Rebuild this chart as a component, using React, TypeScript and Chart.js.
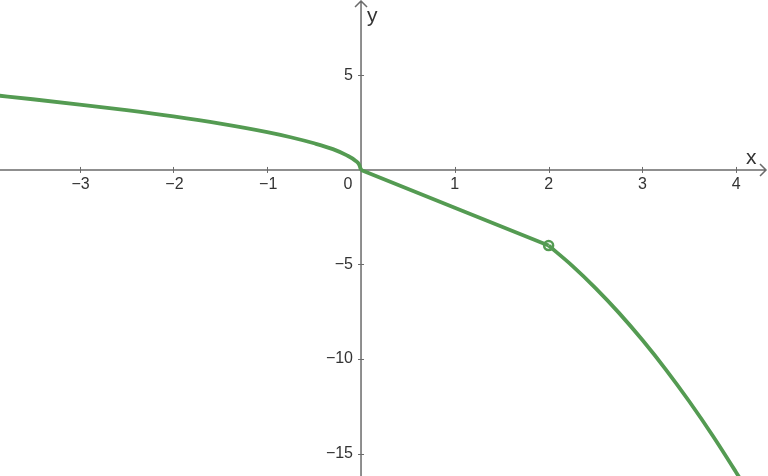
import { useEffect, useRef } from "react"
import { Chart, registerables } from "chart.js"

Chart.register(...registerables)

// values
const leftX = [-3.9, -3.5, -3, -2.5, -2, -1.5, -1, -0.75, -0.5, -0.3, -0.15, -0.06, -0.02, 0]
const leftY = [3.95, 3.74, 3.46, 3.16, 2.83, 2.45, 2.0, 1.73, 1.41, 1.1, 0.77, 0.49, 0.28, 0]
const midX = [0, 2]
const midY = [0, -4]
const rightX = [2, 2.25, 2.5, 2.75, 3, 3.25, 3.5, 3.75, 4, 4.05]
const rightY = [-4, -5.06, -6.25, -7.56, -9, -10.56, -12.25, -14.06, -16, -16.4]
const holeX = [2]
const holeY = [-4]

const xTicks = [-3, -2, -1, 1, 2, 3, 4]
const yTicks = [5, -5, -10, -15]

const GREEN = "#549b52"
const AXIS = "#6b6b6b"

const toPoints = (xs: number[], ys: number[]) => xs.map((x, i) => ({ x, y: ys[i] }))
const fmt = (v: number) => (v < 0 ? "\u2212" + Math.abs(v) : String(v))

const axesPlugin = {
  id: "axes",
  beforeDatasetsDraw(chart: Chart) {
    const ctx = chart.ctx
    const xs = chart.scales.x
    const ys = chart.scales.y
    const ox = xs.getPixelForValue(0)
    const oy = ys.getPixelForValue(0)
    const w = chart.width
    const h = chart.height
    ctx.save()
    ctx.strokeStyle = AXIS
    ctx.lineWidth = 1.5
    ctx.beginPath()
    ctx.moveTo(0, oy)
    ctx.lineTo(w - 2, oy)
    ctx.moveTo(ox, h)
    ctx.lineTo(ox, 1)
    // arrow heads
    ctx.moveTo(w - 8, oy - 6)
    ctx.lineTo(w - 2, oy)
    ctx.lineTo(w - 8, oy + 6)
    ctx.moveTo(ox - 6, 7)
    ctx.lineTo(ox, 1)
    ctx.lineTo(ox + 6, 7)
    ctx.stroke()

    ctx.lineWidth = 1
    ctx.beginPath()
    xTicks.forEach((t) => {
      const px = Math.round(xs.getPixelForValue(t)) + 0.5
      ctx.moveTo(px, oy - 3)
      ctx.lineTo(px, oy + 3)
    })
    yTicks.forEach((t) => {
      const py = Math.round(ys.getPixelForValue(t)) + 0.5
      ctx.moveTo(ox - 3, py)
      ctx.lineTo(ox + 3, py)
    })
    ctx.stroke()

    ctx.fillStyle = "#333"
    ctx.font = "16px 'Liberation Sans', Arial, sans-serif"
    ctx.textAlign = "center"
    ctx.textBaseline = "top"
    xTicks.forEach((t) => {
      ctx.fillText(fmt(t), xs.getPixelForValue(t) + (t < 0 ? 1 : 0), oy + 7)
    })
    ctx.fillText("0", ox - 13, oy + 7)
    ctx.textAlign = "right"
    ctx.textBaseline = "middle"
    yTicks.forEach((t) => {
      ctx.fillText(fmt(t), ox - 8, ys.getPixelForValue(t))
    })

    ctx.font = "21px 'Liberation Sans', Arial, sans-serif"
    ctx.textAlign = "left"
    ctx.textBaseline = "alphabetic"
    ctx.fillText("x", w - 22, oy - 6)
    ctx.fillText("y", ox + 6, 22)
    ctx.restore()
  },
}

export default function App() {
  const chartRef = useRef<HTMLCanvasElement>(null)
  const chartInstance = useRef<Chart | null>(null)

  useEffect(() => {
    document.body.style.margin = "0"
    if (!chartRef.current) return
    if (chartInstance.current) chartInstance.current.destroy()

    const ctx = chartRef.current.getContext("2d")
    if (!ctx) return

    const lineStyle = {
      showLine: true,
      borderColor: GREEN,
      borderWidth: 3.8,
      pointRadius: 0,
      fill: false,
      cubicInterpolationMode: "monotone" as const,
    }

    chartInstance.current = new Chart(ctx, {
      type: "scatter",
      data: {
        datasets: [
          { ...lineStyle, data: toPoints(leftX, leftY) },
          { ...lineStyle, data: toPoints(midX, midY) },
          { ...lineStyle, data: toPoints(rightX, rightY) },
          {
            data: toPoints(holeX, holeY),
            pointRadius: 4.5,
            pointBorderWidth: 2.5,
            pointBackgroundColor: "#ffffff",
            pointBorderColor: GREEN,
            borderColor: GREEN,
            backgroundColor: "#ffffff",
          },
        ],
      },
      options: {
        animation: false,
        responsive: true,
        maintainAspectRatio: false,
        layout: { padding: 0, autoPadding: false },
        plugins: { legend: { display: false }, tooltip: { enabled: false } },
        scales: {
          x: { type: "linear", min: -3.849, max: 4.339, display: false },
          y: { type: "linear", min: -16.19, max: 8.99, display: false },
        },
      },
      plugins: [axesPlugin],
    })

    return () => {
      if (chartInstance.current) {
        chartInstance.current.destroy()
        chartInstance.current = null
      }
    }
  }, [])

  return (
    <div style={{ width: 768, height: 476, background: "#fff" }}>
      <canvas ref={chartRef} />
    </div>
  )
}
